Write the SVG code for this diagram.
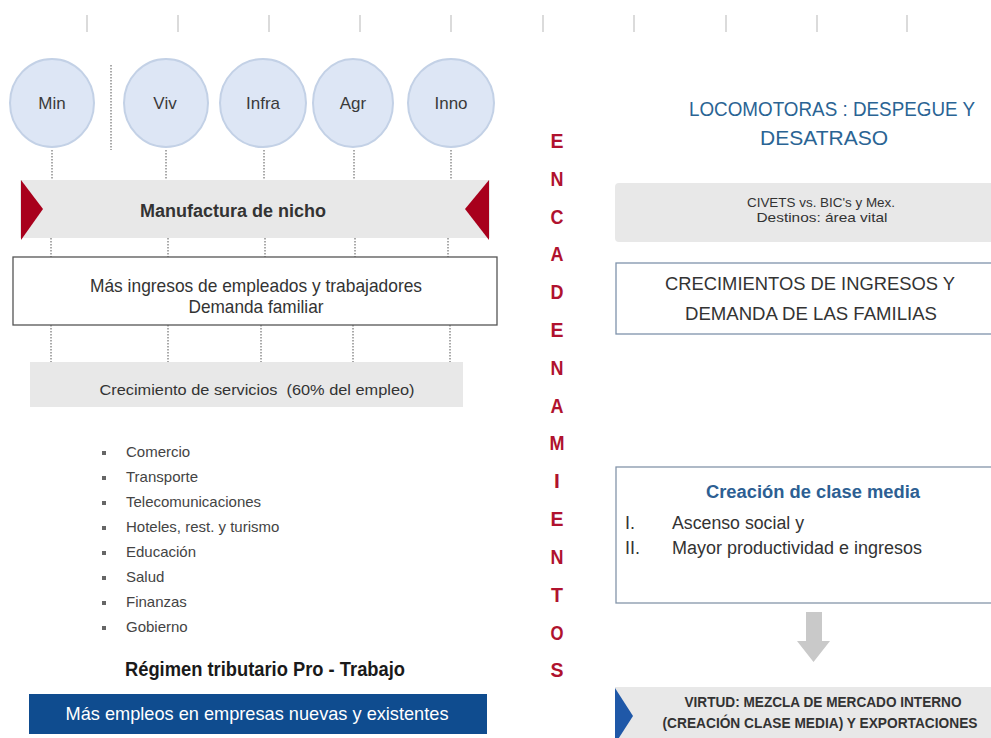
<svg xmlns="http://www.w3.org/2000/svg" width="991" height="738" viewBox="0 0 991 738">
<style>
text{font-family:"Liberation Sans",Arial,sans-serif}
.tick{stroke:#cfcfcf;stroke-width:1.5}
.dot{stroke:#555;stroke-width:1;stroke-dasharray:1.5 1.5;fill:none}
.circ{fill:#dde6f5;stroke:#c3d1e6;stroke-width:2}
.cl{font-size:17px;fill:#3a3a3a;text-anchor:middle}
.band{fill:#e8e8e8}
.red{fill:#a8001c}
.mid{text-anchor:middle}
.li{font-size:15px;fill:#444}
.bul{fill:#666}
.enc{font-size:21px;font-weight:bold;fill:#b0122e;text-anchor:middle}
.dk{fill:#333}
</style>
<rect width="991" height="738" fill="#ffffff"/>
<g id="ticks">
<line class="tick" x1="87" y1="15" x2="87" y2="32"/>
<line class="tick" x1="178" y1="15" x2="178" y2="32"/>
<line class="tick" x1="269" y1="15" x2="269" y2="32"/>
<line class="tick" x1="360" y1="15" x2="360" y2="32"/>
<line class="tick" x1="451" y1="15" x2="451" y2="32"/>
<line class="tick" x1="543" y1="15" x2="543" y2="32"/>
<line class="tick" x1="634" y1="15" x2="634" y2="32"/>
<line class="tick" x1="726" y1="15" x2="726" y2="32"/>
<line class="tick" x1="817" y1="15" x2="817" y2="32"/>
<line class="tick" x1="907" y1="15" x2="907" y2="32"/>
</g>
<g id="connectors">
<line class="dot" x1="111" y1="65" x2="111" y2="150"/>
<line class="dot" x1="52" y1="150" x2="52" y2="180"/>
<line class="dot" x1="166" y1="150" x2="166" y2="180"/>
<line class="dot" x1="264" y1="150" x2="264" y2="180"/>
<line class="dot" x1="354" y1="150" x2="354" y2="180"/>
<line class="dot" x1="451" y1="150" x2="451" y2="180"/>
<line class="dot" x1="51" y1="238" x2="51" y2="257"/>
<line class="dot" x1="168" y1="238" x2="168" y2="257"/>
<line class="dot" x1="265" y1="238" x2="265" y2="257"/>
<line class="dot" x1="355" y1="238" x2="355" y2="257"/>
<line class="dot" x1="448" y1="238" x2="448" y2="257"/>
<line class="dot" x1="51" y1="325" x2="51" y2="362"/>
<line class="dot" x1="168" y1="325" x2="168" y2="362"/>
<line class="dot" x1="261" y1="325" x2="261" y2="362"/>
<line class="dot" x1="353" y1="325" x2="353" y2="362"/>
<line class="dot" x1="450" y1="325" x2="450" y2="362"/>
<path d="M806 612 H822 V641 H830 L813.5 662 L797 641 H806 Z" fill="#c9c9c9"/>
</g>
<g id="min"><ellipse class="circ" cx="52" cy="103" rx="42" ry="44"/><text class="cl" x="52" y="109">Min</text></g>
<g id="viv"><ellipse class="circ" cx="166" cy="103" rx="42" ry="44"/><text class="cl" x="165" y="109">Viv</text></g>
<g id="infra"><ellipse class="circ" cx="263" cy="103" rx="43" ry="44"/><text class="cl" x="263" y="109">Infra</text></g>
<g id="agr"><ellipse class="circ" cx="353" cy="103" rx="40" ry="44"/><text class="cl" x="353" y="109">Agr</text></g>
<g id="inno"><ellipse class="circ" cx="451" cy="103" rx="43" ry="44"/><text class="cl" x="451" y="109">Inno</text></g>
<g id="manufactura">
<rect class="band" x="20" y="180" width="470" height="58"/>
<polygon class="red" points="21,180 43,209 21,240"/>
<polygon class="red" points="489,180 465,209 489,240"/>
<text class="mid dk" x="233" y="217" font-size="18" font-weight="bold">Manufactura de nicho</text>
</g>
<g id="ingresos">
<rect x="13" y="257" width="484" height="68" fill="#fff" stroke="#555" stroke-width="1.3"/>
<text class="mid dk" x="256" y="292" font-size="19" textLength="332" lengthAdjust="spacingAndGlyphs">Más ingresos de empleados y trabajadores</text>
<text class="mid dk" x="256" y="313" font-size="19" textLength="135" lengthAdjust="spacingAndGlyphs">Demanda familiar</text>
</g>
<g id="servicios">
<rect class="band" x="30" y="362" width="433" height="45"/>
<text class="mid dk" x="257" y="395" font-size="15" textLength="315" lengthAdjust="spacingAndGlyphs" xml:space="preserve">Crecimiento de servicios  (60% del empleo)</text>
</g>
<g id="lista">
<rect class="bul" x="102" y="451" width="4" height="4"/><text class="li" x="126" y="457">Comercio</text>
<rect class="bul" x="102" y="476" width="4" height="4"/><text class="li" x="126" y="482">Transporte</text>
<rect class="bul" x="102" y="501" width="4" height="4"/><text class="li" x="126" y="507">Telecomunicaciones</text>
<rect class="bul" x="102" y="526" width="4" height="4"/><text class="li" x="126" y="532">Hoteles, rest. y turismo</text>
<rect class="bul" x="102" y="551" width="4" height="4"/><text class="li" x="126" y="557">Educación</text>
<rect class="bul" x="102" y="576" width="4" height="4"/><text class="li" x="126" y="582">Salud</text>
<rect class="bul" x="102" y="601" width="4" height="4"/><text class="li" x="126" y="607">Finanzas</text>
<rect class="bul" x="102" y="626" width="4" height="4"/><text class="li" x="126" y="632">Gobierno</text>
</g>
<g id="regimen">
<text class="mid" x="265" y="676" font-size="20" font-weight="bold" fill="#1a1a1a" textLength="280" lengthAdjust="spacingAndGlyphs">Régimen tributario Pro - Trabajo</text>
</g>
<g id="empleos">
<rect x="29" y="694" width="458" height="40" fill="#0f4c8f"/>
<text class="mid" x="257" y="720" font-size="19" fill="#ffffff" textLength="383" lengthAdjust="spacingAndGlyphs">Más empleos en empresas nuevas y existentes</text>
</g>
<g id="encadenamientos">
<text class="enc" x="557" y="148" textLength="13" lengthAdjust="spacingAndGlyphs">E</text>
<text class="enc" x="557" y="186" textLength="13" lengthAdjust="spacingAndGlyphs">N</text>
<text class="enc" x="557" y="224" textLength="13" lengthAdjust="spacingAndGlyphs">C</text>
<text class="enc" x="557" y="261" textLength="13" lengthAdjust="spacingAndGlyphs">A</text>
<text class="enc" x="557" y="299" textLength="13" lengthAdjust="spacingAndGlyphs">D</text>
<text class="enc" x="557" y="337" textLength="13" lengthAdjust="spacingAndGlyphs">E</text>
<text class="enc" x="557" y="375" textLength="13" lengthAdjust="spacingAndGlyphs">N</text>
<text class="enc" x="557" y="413" textLength="13" lengthAdjust="spacingAndGlyphs">A</text>
<text class="enc" x="557" y="450" textLength="15" lengthAdjust="spacingAndGlyphs">M</text>
<text class="enc" x="557" y="488">I</text>
<text class="enc" x="557" y="526" textLength="13" lengthAdjust="spacingAndGlyphs">E</text>
<text class="enc" x="557" y="564" textLength="13" lengthAdjust="spacingAndGlyphs">N</text>
<text class="enc" x="557" y="602" textLength="12" lengthAdjust="spacingAndGlyphs">T</text>
<text class="enc" x="557" y="640" textLength="13" lengthAdjust="spacingAndGlyphs">O</text>
<text class="enc" x="557" y="677" textLength="13" lengthAdjust="spacingAndGlyphs">S</text>
</g>
<g id="locomotoras">
<text class="mid" x="832" y="116" font-size="20" fill="#2a6494" textLength="286" lengthAdjust="spacingAndGlyphs">LOCOMOTORAS : DESPEGUE Y</text>
<text class="mid" x="824" y="145" font-size="21" fill="#2a6494" textLength="128" lengthAdjust="spacingAndGlyphs">DESATRASO</text>
</g>
<g id="civets">
<rect class="band" x="615" y="183" width="390" height="59" rx="4"/>
<text class="mid dk" x="821" y="207" font-size="13" textLength="148" lengthAdjust="spacingAndGlyphs">CIVETS vs. BIC's y Mex.</text>
<text class="mid dk" x="822" y="222" font-size="13" textLength="131" lengthAdjust="spacingAndGlyphs">Destinos: área vital</text>
</g>
<g id="crecimientos">
<rect x="616" y="263" width="390" height="71" fill="#fff" stroke="#7f93ab" stroke-width="1.3"/>
<text class="mid dk" x="810" y="290" font-size="19" textLength="290" lengthAdjust="spacingAndGlyphs">CRECIMIENTOS DE INGRESOS Y</text>
<text class="mid dk" x="811" y="320" font-size="19" textLength="252" lengthAdjust="spacingAndGlyphs">DEMANDA DE LAS FAMILIAS</text>
</g>
<g id="clase-media">
<rect x="616" y="467" width="390" height="136" fill="#fff" stroke="#8495aa" stroke-width="1.3"/>
<text class="mid" x="813" y="498" font-size="18" font-weight="bold" fill="#2d5f93" textLength="214" lengthAdjust="spacingAndGlyphs">Creación de clase media</text>
<text class="dk" x="625" y="529" font-size="18">I.</text>
<text class="dk" x="672" y="529" font-size="18" textLength="132" lengthAdjust="spacingAndGlyphs">Ascenso social y</text>
<text class="dk" x="625" y="554" font-size="18">II.</text>
<text class="dk" x="672" y="554" font-size="18" textLength="250" lengthAdjust="spacingAndGlyphs">Mayor productividad e ingresos</text>
</g>
<g id="virtud">
<rect class="band" x="615" y="687" width="390" height="60"/>
<polygon points="615,688 633,716 615,744" fill="#1f58a8"/>
<text class="mid dk" x="823" y="707" font-size="14" font-weight="bold" textLength="277" lengthAdjust="spacingAndGlyphs">VIRTUD: MEZCLA DE MERCADO INTERNO</text>
<text class="mid dk" x="820" y="728" font-size="14" font-weight="bold" textLength="315" lengthAdjust="spacingAndGlyphs">(CREACIÓN CLASE MEDIA) Y EXPORTACIONES</text>
</g>
</svg>
